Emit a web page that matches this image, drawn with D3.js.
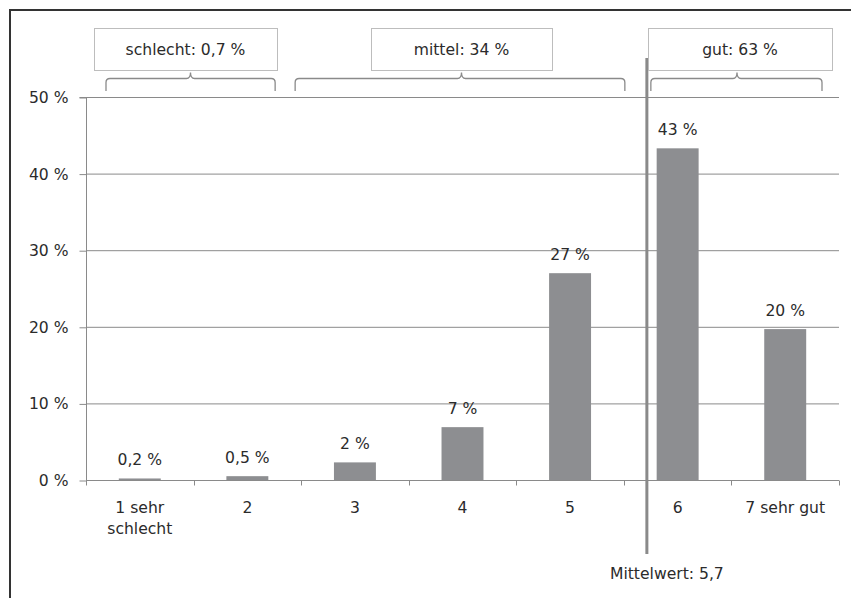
<!DOCTYPE html>
<html><head><meta charset="utf-8">
<script src="https://cdn.jsdelivr.net/npm/d3@7"></script>
<style>
html,body{margin:0;padding:0;background:#fff;}
svg{display:block;}
text{font-family:"DejaVu Sans",sans-serif;font-size:15.6px;fill:#2b2b2b;}
</style></head>
<body>
<script>
const categories = ["1 sehr\nschlecht", "2", "3", "4", "5", "6", "7 sehr gut"];
const values = [0.2, 0.5, 2.3, 6.9, 27.0, 43.3, 19.7];
const valueLabels = ["0,2 %", "0,5 %", "2 %", "7 %", "27 %", "43 %", "20 %"];
const yTicks = [0, 10, 20, 30, 40, 50];
const yTickLabels = ["0 %", "10 %", "20 %", "30 %", "40 %", "50 %"];
const groupLabels = ["schlecht: 0,7 %", "mittel: 34 %", "gut: 63 %"];
const groupStart = [0, 2, 5];
const groupEnd = [1, 4, 6];
const meanValue = 5.7;
const meanLabel = "Mittelwert: 5,7";

const W = 851, H = 598;
const svg = d3.select("body").append("svg").attr("width", W).attr("height", H);

// frame
svg.append("path").attr("d", `M10,${H} L10,10 L${W},10`)
  .attr("fill", "none").attr("stroke", "#333").attr("stroke-width", 2);

const x0 = 86, x1 = 839, yTop = 97, yBot = 480;
const x = d3.scaleBand().domain(d3.range(categories.length)).range([x0, x1]).paddingInner(0.61).paddingOuter(0.305);
const xb = d3.scaleBand().domain(d3.range(categories.length)).range([x0, x1]);
const y = d3.scaleLinear().domain([0, 50]).range([yBot, yTop]);
const xm = d3.scaleLinear().domain([0.5, categories.length + 0.5]).range([x0, x1]);

const grid = "#8a8a8a";
// gridlines
svg.append("g").selectAll("line").data(yTicks.filter(d => d > 0)).join("line")
  .attr("x1", x0).attr("x2", x1).attr("y1", d => y(d) + 0.5).attr("y2", d => y(d) + 0.5)
  .attr("stroke", grid).attr("stroke-width", 1);

// y axis
const ya = svg.append("g").attr("transform", `translate(${x0 + 0.5},0.5)`)
  .call(d3.axisLeft(y).tickValues(yTicks).tickFormat((d, i) => yTickLabels[i]).tickSize(7).tickPadding(11));
ya.select(".domain").attr("stroke", grid).attr("d", `M-7,${yTop}H0V${yBot}`);
ya.selectAll(".tick line").attr("stroke", grid);
ya.selectAll(".tick text").style("font-family", "DejaVu Sans").style("font-size", "15.6px").attr("fill", "#2b2b2b");

// x axis
const xa = svg.append("g").attr("transform", `translate(0,${yBot + 0.5})`);
xa.append("line").attr("x1", x0).attr("x2", x1).attr("stroke", grid);
xa.selectAll("line.t").data(d3.range(categories.length + 1)).join("line").attr("class", "t")
  .attr("x1", d => Math.round(x0 + d * xb.step()) + 0.5).attr("x2", d => Math.round(x0 + d * xb.step()) + 0.5)
  .attr("y1", 0).attr("y2", 5).attr("stroke", grid);
xa.selectAll("text").data(categories).join("text")
  .attr("text-anchor", "middle")
  .attr("transform", (d, i) => `translate(${xb(i) + xb.bandwidth() / 2},0)`)
  .each(function (d) {
    const lines = d.split("\n");
    d3.select(this).selectAll("tspan").data(lines).join("tspan")
      .attr("x", 0).attr("y", (l, j) => 32 + j * 21).text(l => l);
  });

// bars
svg.append("g").selectAll("rect").data(values).join("rect")
  .attr("x", (d, i) => x(i)).attr("width", x.bandwidth())
  .attr("y", d => y(d)).attr("height", d => yBot - y(d))
  .attr("fill", "#8d8e91");

// value labels
svg.append("g").selectAll("text").data(values).join("text")
  .attr("text-anchor", "middle")
  .attr("x", (d, i) => x(i) + x.bandwidth() / 2)
  .attr("y", d => y(d) - 13)
  .text((d, i) => valueLabels[i]);

// mean line
const mx = xm(meanValue) + 1.5;
svg.append("line").attr("x1", mx).attr("x2", mx).attr("y1", 58).attr("y2", 554)
  .attr("stroke", "#8a8a8a").attr("stroke-width", 3);
svg.append("text").attr("x", mx + 20).attr("y", 579).attr("text-anchor", "middle").text(meanLabel);

// group boxes and braces
const braceInsetL = [20, -6, 27];
const braceInsetR = [26, -1, 17];
const boxes = [[94, 277], [371, 552], [648, 832]];
const gb = svg.append("g");
groupLabels.forEach((lab, k) => {
  const bx1 = boxes[k][0], bx2 = boxes[k][1];
  gb.append("rect").attr("x", bx1 + 0.5).attr("y", 28.5).attr("width", bx2 - bx1).attr("height", 42)
    .attr("fill", "#fff").attr("stroke", "#bdbdbd").attr("stroke-width", 1);
  gb.append("text").attr("x", (bx1 + bx2) / 2).attr("y", 55).attr("text-anchor", "middle").text(lab);
  const a = xb(groupStart[k]) + braceInsetL[k];
  const b = xb(groupEnd[k]) + xb.bandwidth() - braceInsetR[k];
  const m = (bx1 + bx2) / 2 + [5, 0, -3][k];
  const y0 = 78.5;
  const p = `M${a},91 L${a},${y0 + 4} Q${a},${y0} ${a + 4},${y0} L${m - 4},${y0} Q${m},${y0} ${m},${y0 - 6} Q${m},${y0} ${m + 4},${y0} L${b - 4},${y0} Q${b},${y0} ${b},${y0 + 4} L${b},91`;
  gb.append("path").attr("d", p).attr("fill", "none").attr("stroke", "#8a8a8a").attr("stroke-width", 1.3);
});
</script>
</body></html>
